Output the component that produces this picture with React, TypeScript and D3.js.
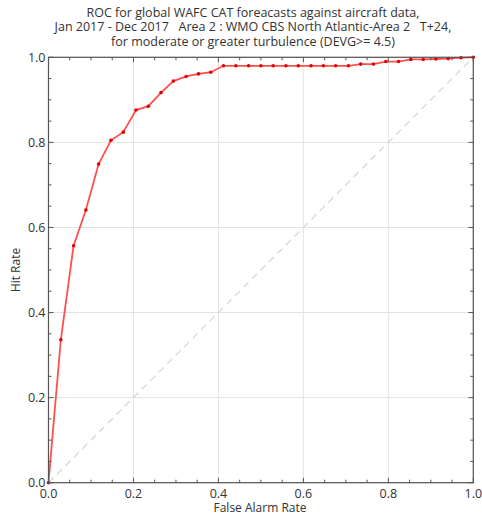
import React from "react";
import * as d3 from "d3";

const falseAlarmRate = [
  0.0, 0.029, 0.059, 0.088, 0.118, 0.147, 0.176, 0.206, 0.235, 0.265, 0.294,
  0.324, 0.353, 0.382, 0.412, 0.441, 0.471, 0.5, 0.529, 0.559, 0.588, 0.618,
  0.647, 0.676, 0.706, 0.735, 0.765, 0.794, 0.824, 0.853, 0.882, 0.912, 0.941,
  0.971, 1.0,
];
const hitRate = [
  0.0, 0.336, 0.557, 0.641, 0.749, 0.805, 0.824, 0.876, 0.885, 0.917, 0.944,
  0.955, 0.961, 0.965, 0.98, 0.98, 0.98, 0.98, 0.98, 0.98, 0.98, 0.98, 0.98,
  0.98, 0.98, 0.984, 0.984, 0.99, 0.99, 0.995, 0.995, 0.996, 0.997, 0.999, 1.0,
];
const majorTicks = [0, 0.2, 0.4, 0.6, 0.8, 1.0];
const minorTicks = d3.range(0, 21).map((i) => i / 20);
const titleLines = [
  "ROC for global WAFC CAT foreacasts against aircraft data,",
  "Jan 2017 - Dec 2017   Area 2 : WMO CBS North Atlantic-Area 2   T+24,",
  "for moderate or greater turbulence (DEVG>= 4.5)",
];
const xLabel = "False Alarm Rate";
const yLabel = "Hit Rate";

export default function App() {
  const W = 482, H = 516;
  const L = 48.5, R = 473.3, T = 57.3, B = 482.7;
  const x = d3.scaleLinear().domain([0, 1]).range([L, R]);
  const y = d3.scaleLinear().domain([0, 1]).range([B, T]);
  const pts = falseAlarmRate.map((v, i) => [v, hitRate[i]] as [number, number]);
  const line = d3.line<[number, number]>().x((d) => x(d[0])).y((d) => y(d[1]));
  const font = "'Open Sans', 'DejaVu Sans', sans-serif";
  const spine = "#555";
  const txt = "#333";
  return (
    <svg width={W} height={H} style={{ position: "absolute", left: 0, top: 0, background: "#fff" }}>
      <g fontFamily={font} fill={txt}>
        {titleLines.map((t, i) => (
          <text key={i} x={253} y={16.5 + i * 14.75} fontSize={12.5} textAnchor="middle" style={{ whiteSpace: "pre" }}>
            {t}
          </text>
        ))}
      </g>
      {majorTicks.map((t) => (
        <g key={"g" + t}>
          <line x1={x(t)} x2={x(t)} y1={T} y2={B} stroke="#e3e3e3" strokeWidth={1} />
          <line x1={L} x2={R} y1={y(t)} y2={y(t)} stroke="#e3e3e3" strokeWidth={1} />
        </g>
      ))}
      <line x1={x(0)} y1={y(0)} x2={x(1)} y2={y(1)} stroke="#d6d6d6" strokeWidth={1.3} strokeDasharray="7,5" />
      <path d={line(pts) || ""} fill="none" stroke="#ff3030" strokeOpacity={0.85} strokeWidth={1.8} />
      {pts.map((p, i) => (
        <circle key={i} cx={x(p[0])} cy={y(p[1])} r={1.8} fill="#e00000" />
      ))}
      {minorTicks.map((t, i) => {
        const len = i % 4 === 0 ? 5 : 3;
        return (
          <g key={"t" + i} stroke={spine} strokeWidth={1}>
            <line x1={x(t)} x2={x(t)} y1={B} y2={B - len} />
            <line x1={x(t)} x2={x(t)} y1={T} y2={T + len} />
            <line x1={L} x2={L + len} y1={y(t)} y2={y(t)} />
            <line x1={R} x2={R - len} y1={y(t)} y2={y(t)} />
          </g>
        );
      })}
      <rect x={L} y={T} width={R - L} height={B - T} fill="none" stroke={spine} strokeWidth={1.2} />
      <g fontFamily={font} fill={txt} fontSize={12.5}>
        {majorTicks.map((t) => (
          <text key={"xl" + t} x={x(t)} y={B + 15} textAnchor="middle">
            {t.toFixed(1)}
          </text>
        ))}
        {majorTicks.map((t) => (
          <text key={"yl" + t} x={L - 3} y={y(t) + 4.5} textAnchor="end">
            {t.toFixed(1)}
          </text>
        ))}
        <text x={260} y={512} textAnchor="middle" fontSize={12}>
          {xLabel}
        </text>
        <text transform={`translate(20, 270) rotate(-90)`} textAnchor="middle" fontSize={12}>
          {yLabel}
        </text>
      </g>
    </svg>
  );
}
